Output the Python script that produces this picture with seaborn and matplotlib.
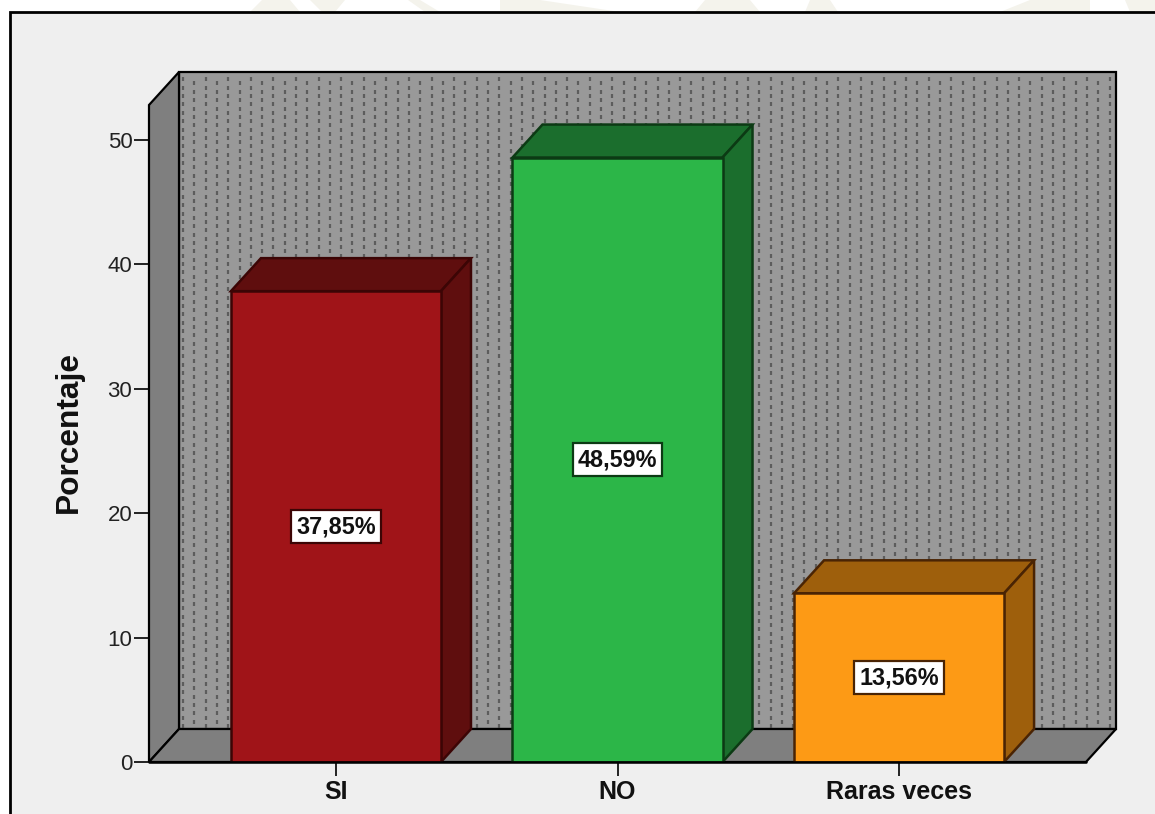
import numpy as np
import matplotlib
matplotlib.use("Agg")
import matplotlib.pyplot as plt
from matplotlib.patches import Polygon, Rectangle
import seaborn as sns

categories = ["SI", "NO", "Raras veces"]
percentages = [37.85, 48.59, 13.56]
value_labels = ["37,85%", "48,59%", "13,56%"]
y_ticks = [0, 10, 20, 30, 40, 50]
front_colors = ["#a01418", "#2cb648", "#fd9a15"]
side_colors = ["#5f0e0e", "#1b6e2d", "#9e5f0c"]
edge_colors = ["#3c0505", "#0c3a14", "#4a2404"]

W, H = 1155, 814
sns.set_theme(style="white")
plt.rcParams["font.family"] = ["Liberation Sans", "DejaVu Sans"]

fig = plt.figure(figsize=(W / 100, H / 100), dpi=100, facecolor="white")

# Faint emblem showing above the panel
for pts in ([(250, 12), (262, 0), (290, 0), (300, 12)],
            [(310, 0), (345, 0), (335, 12), (322, 12)],
            [(408, 0), (420, 0), (440, 12), (425, 12)],
            [(500, 0), (540, 0), (620, 12), (500, 12)],
            [(695, 12), (705, 0), (750, 0), (760, 12)],
            [(810, 0), (830, 0), (838, 12), (805, 12)],
            [(1000, 12), (1030, 0), (1090, 0), (1090, 12)],
            [(1125, 0), (1200, 0), (1200, 12), (1130, 12)]):
    fig.add_artist(Polygon([(x / W, 1 - y / H) for x, y in pts], closed=True,
                           transform=fig.transFigure, fc="#f4f3ec", ec="none", zorder=-2))

# Panel with a black border running off the lower right of the image
fig.add_artist(Rectangle((9.5 / W, -0.02), 1.1, 1 - 12.5 / H + 0.02,
                         transform=fig.transFigure, fc="#efefef", ec="black", lw=2, zorder=-1))

# Axes rectangle is the front plane of the 3D box
left, right, bottom, top = 149, 1086, 762, 105
ax = fig.add_axes([left / W, 1 - bottom / H, (right - left) / W, (bottom - top) / H])
ax.patch.set_alpha(0)
x_min, x_max = -0.664, 2.664
y_max = (bottom - top) / 12.44
bar_width = 0.746
depth_x = 30 / ((right - left) / (x_max - x_min))
depth_y = 33 / 12.44


def face(points, color, edge="black", lw=1.6, z=1):
    ax.add_patch(Polygon(points, closed=True, fc=color, ec=edge, lw=lw,
                         zorder=z, clip_on=False, joinstyle="miter"))


# Front faces of the bars
sns.barplot(x=categories, y=percentages, hue=categories, palette=front_colors,
            width=bar_width, legend=False, dodge=False, ax=ax, zorder=3, saturation=1)
ax.set_xlim(x_min, x_max)
ax.set_ylim(0, y_max)
bars = sorted([b for c in ax.containers for b in c], key=lambda b: b.get_x())

# Back wall, side wall and floor
face([(x_min + depth_x, depth_y), (x_max + depth_x, depth_y),
      (x_max + depth_x, y_max + depth_y), (x_min + depth_x, y_max + depth_y)], "#999999")
face([(x_min, 0), (x_min + depth_x, depth_y),
      (x_min + depth_x, y_max + depth_y), (x_min, y_max)], "#7f7f7f")
face([(x_min, 0), (x_max, 0), (x_max + depth_x, depth_y),
      (x_min + depth_x, depth_y)], "#7f7f7f")

# Dotted texture on the back wall, laid out in screen pixels
px_x = (x_max - x_min) / (right - left)
px_y = 1 / 12.44
col_x = np.arange(x_min + depth_x + 4 * px_x, x_max + depth_x - 2 * px_x, 11.3 * px_x)
for i, cx in enumerate(col_x):
    offset = 0 if i % 2 == 0 else 4.2
    rows = np.arange(depth_y + (3 + offset) * px_y, y_max + depth_y - 3 * px_y, 8.4 * px_y)
    ax.plot(np.full_like(rows, cx), rows, ls="none", marker="|", ms=2.3, mew=1.6,
            color="#444444", alpha=0.7, zorder=1.5, clip_on=False)

# Top and side faces, and the value boxes, follow each bar
for bar, side, edge, label in zip(bars, side_colors, edge_colors, value_labels):
    x0, w, h = bar.get_x(), bar.get_width(), bar.get_height()
    bar.set_edgecolor(edge)
    bar.set_linewidth(1.8)
    face([(x0, h), (x0 + w, h), (x0 + w + depth_x, h + depth_y), (x0 + depth_x, h + depth_y)],
         side, edge, 1.8, 2)
    face([(x0 + w, 0), (x0 + w + depth_x, depth_y), (x0 + w + depth_x, h + depth_y), (x0 + w, h)],
         side, edge, 1.8, 2)
    ax.text(x0 + w / 2, h / 2, label, ha="center", va="center", fontsize=16.8,
            fontweight="bold", color="#111111", zorder=5,
            bbox=dict(boxstyle="square,pad=0.22", fc="white", ec=edge, lw=1.6))

for spine in ax.spines.values():
    spine.set_visible(False)
ax.set_yticks(y_ticks)
ax.tick_params(axis="y", direction="out", left=True, length=11, width=1.4, color="#222222",
               labelsize=16, labelcolor="#222222", pad=1)
ax.tick_params(axis="x", direction="out", bottom=True, length=10, width=1.4, color="#222222",
               labelsize=18, labelcolor="#111111", pad=3)
for tick in ax.get_xticklabels():
    tick.set_fontweight("bold")
ax.set_ylabel("Porcentaje", fontsize=22.8, fontweight="bold", color="#111111", labelpad=0)
ax.yaxis.set_label_coords((84 - left) / (right - left), (bottom - 432) / (bottom - top))
ax.plot([x_min, x_max], [0, 0], color="black", lw=1.8, zorder=4, clip_on=False)

fig.savefig("out.png", dpi=100, facecolor=fig.get_facecolor())
